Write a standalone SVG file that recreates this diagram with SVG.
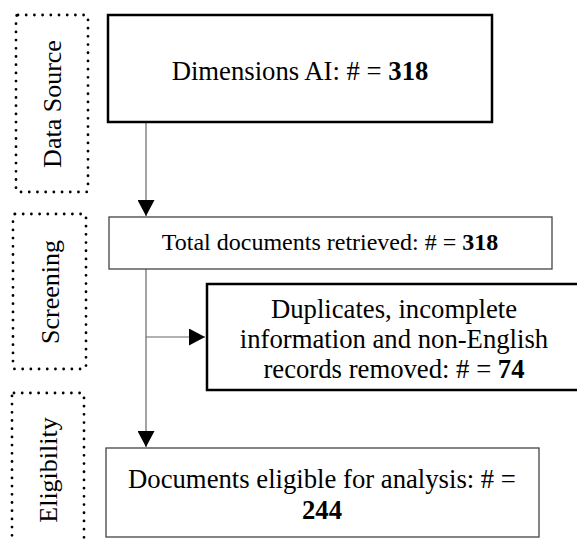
<svg xmlns="http://www.w3.org/2000/svg" width="577" height="542" viewBox="0 0 577 542">
<defs>
<style>
.t{font-family:"Liberation Serif","Times New Roman",serif;fill:#000}
.b{font-weight:bold}
.dot{fill:none;stroke:#000;stroke-width:2.8;stroke-linecap:round;stroke-dasharray:0 8.2}
.thick{fill:#fff;stroke:#000;stroke-width:2.5}
.thin{fill:#fff;stroke:#444;stroke-width:1.3}
.con{fill:none;stroke:#666;stroke-width:1.2}
</style>
<marker id="ah" markerWidth="17" markerHeight="17" refX="16" refY="8.5" orient="auto" markerUnits="userSpaceOnUse">
<path d="M0,0 L16,8.5 L0,17 Z" fill="#000"/>
</marker>
</defs>
<rect width="577" height="542" fill="#fff"/>
<g id="stage-data-source">
<rect class="dot" x="16" y="15" width="72" height="177" rx="2"/>
<text class="t" font-size="26" text-anchor="middle" transform="translate(61,104) rotate(-90)">Data Source</text>
</g>
<g id="stage-screening">
<rect class="dot" x="13" y="214" width="73" height="155" rx="2"/>
<text class="t" font-size="26" text-anchor="middle" transform="translate(59,292) rotate(-90)">Screening</text>
</g>
<g id="stage-eligibility">
<rect class="dot" x="12" y="393" width="72" height="170" rx="2"/>
<text class="t" font-size="26" text-anchor="middle" transform="translate(57,470) rotate(-90)">Eligibility</text>
</g>
<g id="connectors">
<line class="con" x1="146" y1="122" x2="146" y2="216" marker-end="url(#ah)"/>
<line class="con" x1="146" y1="269" x2="146" y2="447" marker-end="url(#ah)"/>
<line class="con" x1="146" y1="337" x2="205" y2="337" marker-end="url(#ah)"/>
</g>
<g id="node-dimensions">
<rect class="thick" x="108" y="15" width="384" height="107"/>
<text class="t" font-size="26.7" x="300" y="80" text-anchor="middle">Dimensions AI: # = <tspan class="b">318</tspan></text>
</g>
<g id="node-total">
<rect class="thin" x="109" y="217" width="443" height="52"/>
<text class="t" font-size="24" x="330" y="250" text-anchor="middle">Total documents retrieved: # = <tspan class="b">318</tspan></text>
</g>
<g id="node-duplicates">
<rect class="thick" x="207" y="284" width="380" height="106"/>
<text class="t" font-size="26.7" text-anchor="middle"><tspan x="394" y="318">Duplicates, incomplete</tspan><tspan x="394" y="348">information and non-English</tspan><tspan x="394" y="378">records removed: # = <tspan class="b">74</tspan></tspan></text>
</g>
<g id="node-eligible">
<rect class="thin" x="106" y="448" width="433" height="89"/>
<text class="t" font-size="26.7" text-anchor="middle"><tspan x="322" y="488">Documents eligible for analysis: # =</tspan><tspan x="322" y="519" class="b">244</tspan></text>
</g>
</svg>
